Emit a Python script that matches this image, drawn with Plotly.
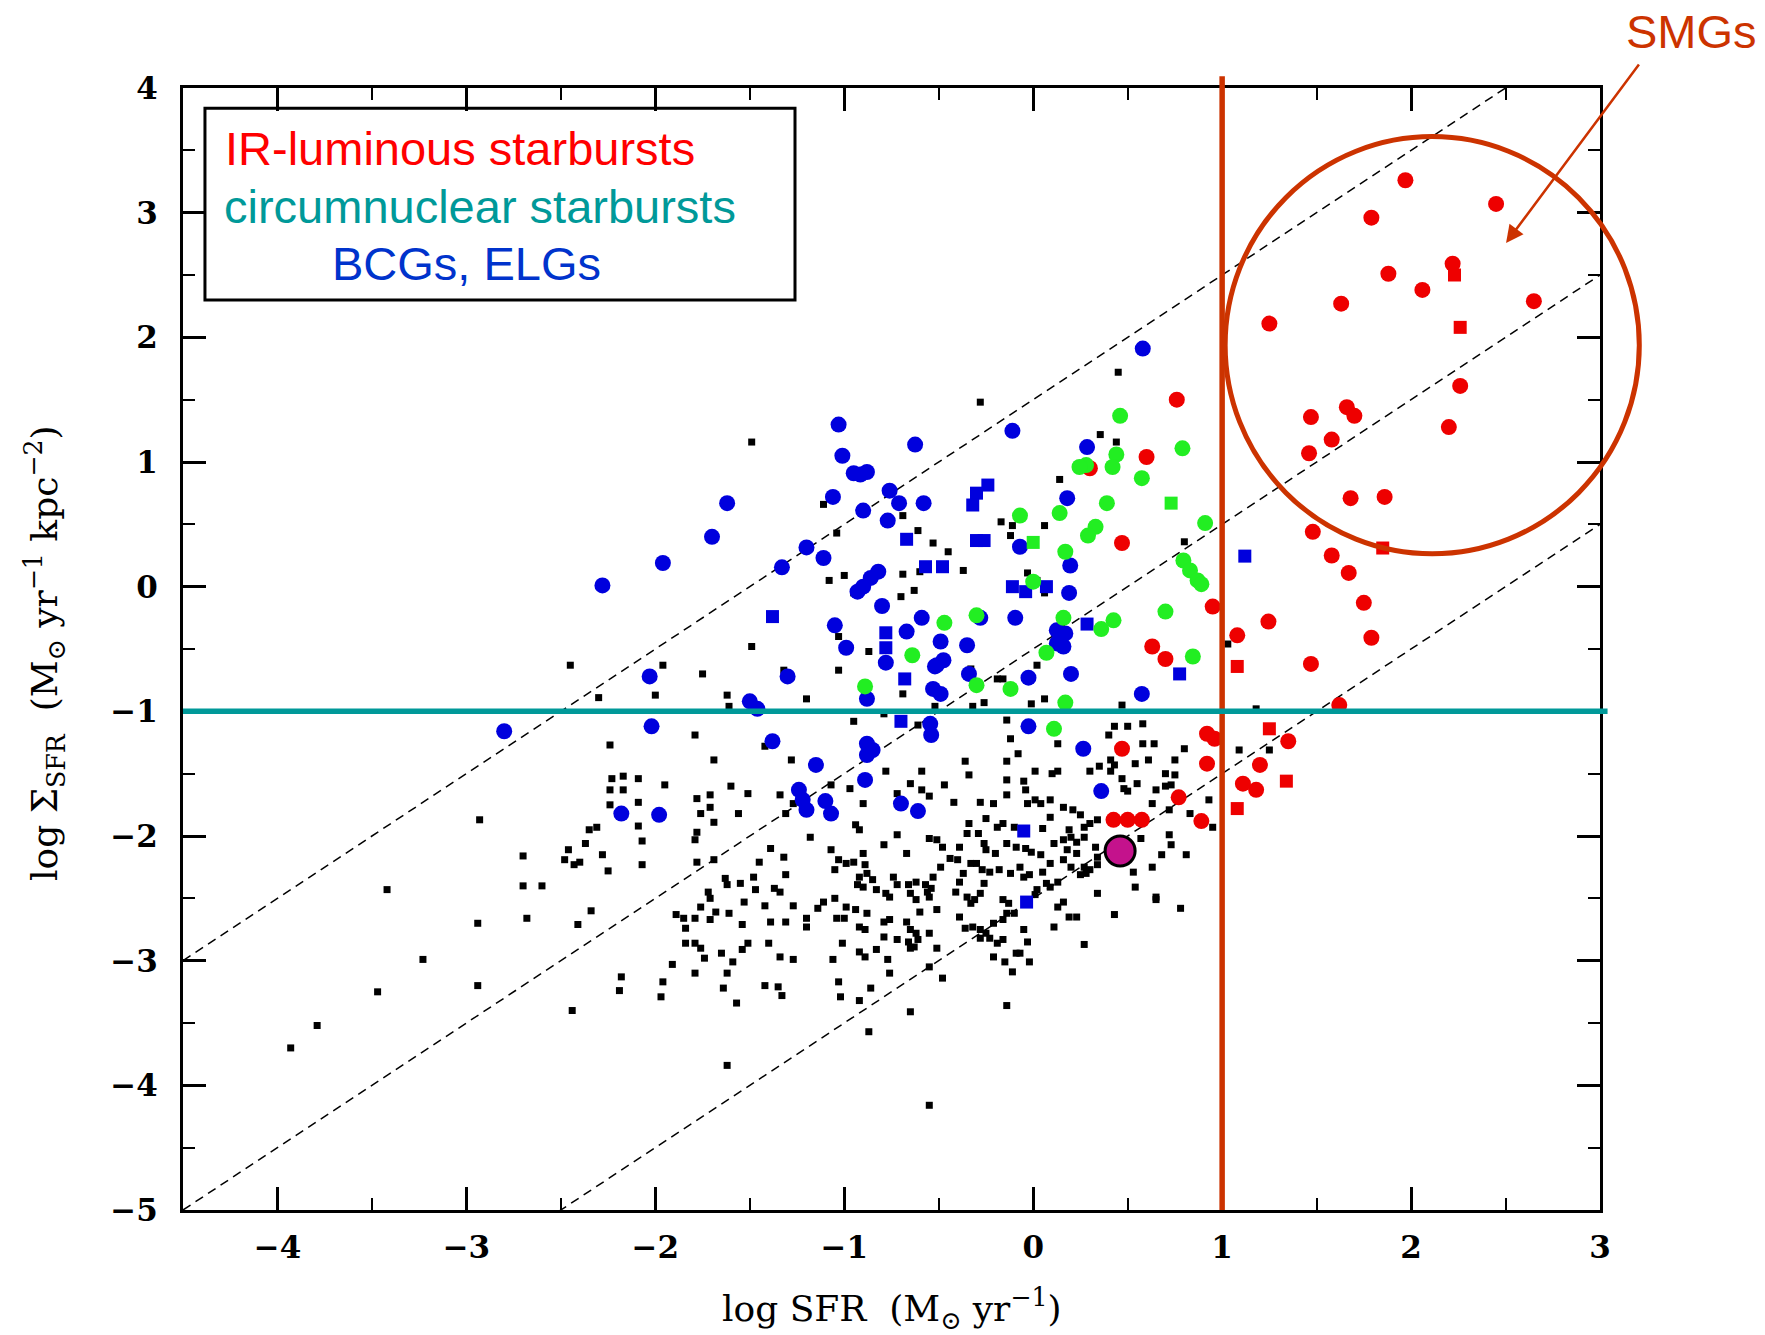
import plotly.graph_objects as go

# Axis extents (log SFR, log Sigma_SFR)
X_RANGE = [-4.5, 3.0]
Y_RANGE = [-5.0, 4.0]
X_TICKS = [-4, -3, -2, -1, 0, 1, 2, 3]
Y_TICKS = [-5, -4, -3, -2, -1, 0, 1, 2, 3, 4]

# Constant-ratio guide lines: log Sigma = log SFR + offset
GUIDE_OFFSETS = [1.5, -0.5, -2.5]

# (log SFR, log Sigma_SFR) per sample
ir_starbursts = [
    (1.97, 3.26), (2.45, 3.07), (1.79, 2.96), (1.88, 2.51), (2.22, 2.59), (2.06, 2.38),
    (1.63, 2.27), (2.65, 2.29), (1.25, 2.11), (2.26, 1.61), (2.20, 1.28), (1.47, 1.36),
    (1.66, 1.44), (1.70, 1.37), (1.58, 1.18), (1.46, 1.07), (1.68, 0.71), (1.86, 0.72),
    (1.48, 0.44), (1.58, 0.25), (1.67, 0.11), (1.75, -0.13), (1.79, -0.41), (1.47, -0.62),
    (1.62, -0.95), (0.76, 1.50), (0.60, 1.04), (0.30, 0.95), (0.47, 0.35), (0.95, -0.16),
    (0.63, -0.48), (0.70, -0.58), (1.245, -0.28), (1.08, -0.39), (0.47, -1.30), (0.92, -1.18),
    (0.96, -1.22), (0.92, -1.42), (1.35, -1.24), (1.20, -1.43), (1.11, -1.58), (1.18, -1.63),
    (0.77, -1.69), (0.425, -1.87), (0.50, -1.87), (0.575, -1.87), (0.89, -1.88),
]
ir_starbursts_sq = [
    (2.23, 2.50), (2.26, 2.08), (1.85, 0.31), (1.08, -0.64), (1.25, -1.14), (1.34, -1.56),
    (1.08, -1.78),
]

circumnuclear = [
    (0.46, 1.37), (0.79, 1.11), (0.28, 0.975), (0.245, 0.96), (0.44, 1.06), (0.42, 0.96),
    (0.575, 0.87), (0.39, 0.67), (0.14, 0.59), (-0.07, 0.57), (0.33, 0.48), (0.29, 0.41),
    (0.91, 0.51), (0.17, 0.28), (0.795, 0.21), (0.83, 0.13), (0.87, 0.05), (0.89, 0.02),
    (0.0, 0.04), (0.70, -0.20), (-0.30, -0.23), (-0.47, -0.29), (0.16, -0.25), (0.425, -0.27),
    (0.36, -0.34), (-0.64, -0.55), (0.07, -0.53), (0.845, -0.56), (-0.30, -0.79),
    (-0.12, -0.82), (0.17, -0.93), (0.11, -1.14), (-0.89, -0.80),
]
circumnuclear_sq = [(0.73, 0.67), (0.0, 0.355)]

bcg_elg = [
    (-1.03, 1.30), (-0.625, 1.14), (-1.01, 1.05), (-0.95, 0.91), (-0.88, 0.92), (-0.915, 0.90),
    (-1.06, 0.72), (-0.76, 0.77), (-0.71, 0.67), (-0.58, 0.67), (-0.90, 0.61), (-0.77, 0.53),
    (-1.62, 0.67), (-1.70, 0.40), (-1.96, 0.19), (-2.28, 0.01), (-1.20, 0.315), (-1.11, 0.23),
    (-1.33, 0.155), (-0.82, 0.12), (-0.86, 0.07), (-0.90, 0.0), (-0.93, -0.04), (-0.80, -0.155),
    (-0.59, -0.25), (-1.05, -0.31), (-0.67, -0.36), (-0.49, -0.44), (-0.99, -0.49),
    (-0.78, -0.61), (-0.51, -0.63), (-0.53, -0.82), (-0.49, -0.86), (-1.30, -0.72),
    (-2.03, -0.72), (-1.50, -0.92), (-1.46, -0.98), (-0.88, -0.90), (-0.545, -1.10),
    (-0.54, -1.19), (-2.80, -1.16), (-2.02, -1.12), (-1.38, -1.24), (-0.88, -1.26),
    (-0.85, -1.31), (-0.88, -1.35), (-1.15, -1.43), (-0.89, -1.55), (-1.24, -1.63),
    (-1.22, -1.71), (-1.20, -1.79), (-1.10, -1.72), (-1.07, -1.82), (-2.18, -1.82),
    (-1.98, -1.83), (-0.70, -1.74), (-0.61, -1.80), (-0.11, 1.25), (0.285, 1.12), (0.18, 0.71),
    (-0.07, 0.32), (0.196, 0.17), (0.19, -0.05), (-0.28, -0.25), (-0.095, -0.25),
    (0.125, -0.35), (0.17, -0.375), (0.16, -0.48), (0.125, -0.455), (-0.35, -0.47),
    (-0.475, -0.59), (-0.52, -0.64), (-0.34, -0.70), (-0.025, -0.73), (0.20, -0.70),
    (0.575, -0.86), (-0.025, -1.12), (0.265, -1.30), (0.36, -1.64), (0.58, 1.91),
]
bcg_elg_sq = [
    (-0.67, 0.38), (-1.38, -0.24), (-0.78, -0.37), (-0.78, -0.49), (-0.68, -0.74),
    (-0.70, -1.08), (-0.24, 0.815), (-0.30, 0.75), (-0.32, 0.655), (-0.30, 0.37),
    (-0.26, 0.37), (-0.57, 0.16), (-0.48, 0.16), (-0.11, 0.0), (-0.04, -0.04), (0.07, 0.0),
    (0.285, -0.30), (0.775, -0.70), (1.12, 0.245), (-0.05, -1.96), (-0.035, -2.53),
]

normal_disks = [
    # sparse low-SFR tail
    (-2.93, -1.87), (-3.42, -2.43), (-2.94, -2.70), (-2.70, -2.16), (-2.70, -2.40),
    (-2.60, -2.40), (-2.68, -2.66), (-3.23, -2.99), (-3.47, -3.25), (-2.94, -3.20),
    (-3.79, -3.52), (-3.93, -3.70), (-2.44, -3.40), (-2.41, -2.71), (-2.34, -2.60),
    (-2.31, -1.93), (-2.35, -1.95), (-2.37, -2.06), (-2.46, -2.11), (-2.48, -2.19),
    (-2.40, -2.21), (-2.43, -2.23), (-2.28, -2.15), (-2.25, -2.28), (-2.24, -1.63),
    (-2.17, -1.63), (-2.09, -1.73), (-2.24, -1.75), (-2.09, -1.92), (-2.07, -2.04),
    (-2.07, -2.23), (-1.95, -1.59), (-1.78, -1.70), (-1.71, -1.67), (-1.71, -1.77),
    (-1.76, -1.82), (-1.69, -1.89), (-1.78, -1.97), (-1.79, -2.03), (-1.60, -1.60),
    (-1.51, -1.66), (-1.56, -1.82), (-1.34, -1.67), (-1.27, -1.74), (-1.31, -1.82),
    (-1.18, -2.01), (-1.07, -1.59), (-0.97, -1.62), (-1.78, -2.21), (-1.69, -2.19),
    (-1.39, -2.10), (-1.32, -2.17), (-1.45, -2.21), (-1.31, -2.31), (-1.48, -2.33),
    (-1.63, -2.34), (-1.62, -2.39), (-1.55, -2.38), (-1.47, -2.43), (-1.37, -2.42),
    (-1.34, -2.45), (-1.72, -2.45), (-1.71, -2.50), (-1.53, -2.53), (-1.42, -2.56),
    (-1.76, -2.57), (-1.68, -2.61), (-1.61, -2.62), (-1.89, -2.63), (-1.85, -2.66),
    (-1.84, -2.74), (-1.79, -2.66), (-1.71, -2.67), (-1.54, -2.71), (-1.39, -2.69),
    (-1.31, -2.69), (-1.27, -2.56), (-1.20, -2.66), (-1.20, -2.73), (-1.14, -2.58),
    (-1.11, -2.53), (-1.05, -2.50), (-0.99, -2.57), (-1.04, -2.66), (-1.00, -2.66),
    (-1.07, -2.11), (-1.03, -2.19), (-0.99, -2.22), (-1.05, -2.27), (-1.84, -2.86),
    (-1.79, -2.86), (-1.76, -2.90), (-1.74, -2.98), (-1.65, -2.94), (-1.59, -3.01),
    (-1.54, -2.91), (-1.51, -2.86), (-1.62, -3.10), (-1.79, -3.10), (-1.91, -3.03),
    (-1.40, -2.86), (-1.34, -2.97), (-1.27, -2.99), (-1.06, -2.99), (-1.01, -2.86),
    (-2.18, -3.13), (-2.19, -3.24), (-1.96, -3.17), (-1.97, -3.29), (-1.64, -3.22),
    (-1.42, -3.20), (-1.35, -3.21), (-1.33, -3.28), (-1.57, -3.34), (-1.03, -3.17),
    (-1.02, -3.29), (-1.62, -3.84), (-0.55, -4.16),
    # upper left
    (-1.49, 1.16), (-1.11, 0.66), (-1.04, 0.43), (-1.08, 0.05), (-1.00, 0.09), (-0.95, -0.05),
    (-1.49, -0.48), (-1.03, -0.40), (-0.87, -0.52), (-1.03, -0.67), (-1.32, -0.67),
    (-1.75, -0.70), (-1.96, -0.63), (-2.45, -0.63), (-2.30, -0.89), (-2.00, -0.87),
    (-1.62, -0.87), (-1.61, -0.96), (-1.20, -0.90), (-1.79, -1.19), (-2.24, -1.27),
    (-1.42, -1.28), (-1.69, -1.39), (-1.28, -1.39), (-2.23, -1.54), (-2.17, -1.52),
    (-2.09, -1.54), (-0.52, -0.96),
    # central
    (-0.28, 1.48), (0.355, 1.22), (0.44, 1.16), (0.45, 1.72), (-0.69, 0.57), (-0.61, 0.45),
    (-0.53, 0.35), (-0.45, 0.28), (-0.17, 0.52), (-0.11, 0.49), (-0.12, 0.41), (0.06, 0.49),
    (0.14, 0.86), (-0.37, 0.13), (-0.69, 0.10), (-0.60, 0.12), (-0.63, -0.03), (-0.70, -0.08),
    (-0.03, 0.11), (0.02, 0.05), (0.06, -0.05), (0.80, 0.36), (0.15, -0.31), (0.02, -0.63),
    (-0.19, -0.74), (-0.16, -0.74), (-0.33, -0.66), (-0.69, -0.86), (1.03, -0.46),
    (-0.26, -0.93), (0.06, -0.90),
    # main cluster
    (-0.95, -1.08), (-0.79, -1.02), (-0.61, -1.11), (-0.32, -0.96), (-0.14, -1.07),
    (-0.01, -0.94), (0.47, -0.95), (-0.78, -1.48), (-0.59, -1.48), (-0.65, -1.58),
    (-0.59, -1.63), (-0.47, -1.59), (-0.36, -1.40), (-0.34, -1.51), (-0.14, -1.40),
    (-0.12, -1.22), (-0.08, -1.34), (-0.14, -1.55), (-0.05, -1.56), (-0.04, -1.63),
    (0.01, -1.48), (0.13, -1.26), (0.13, -1.48), (0.10, -1.50), (0.01, -1.71), (0.04, -1.74),
    (0.09, -1.71), (-0.03, -1.74), (-0.14, -1.67), (-0.21, -1.74), (-0.28, -1.73),
    (-0.42, -1.73), (-0.55, -1.68), (-0.72, -1.66), (-0.90, -1.74), (-0.94, -1.91),
    (-0.92, -1.95), (-0.72, -1.99), (-0.79, -2.07), (-0.90, -2.14), (-0.95, -2.21),
    (-0.89, -2.23), (-0.67, -2.14), (-0.55, -2.02), (-0.51, -2.03), (-0.48, -2.09),
    (-0.39, -2.09), (-0.34, -1.90), (-0.35, -1.98), (-0.29, -1.98), (-0.25, -1.86),
    (-0.19, -1.93), (-0.26, -2.06), (-0.25, -2.11), (-0.20, -2.14), (-0.16, -1.90),
    (-0.10, -1.93), (-0.14, -2.06), (-0.09, -2.09), (-0.04, -2.10), (-0.01, -2.13),
    (0.05, -1.94), (0.09, -1.85), (0.16, -1.77), (0.21, -1.79), (0.25, -1.83), (0.11, -2.06),
    (0.16, -2.03), (0.20, -2.01), (0.23, -2.05), (0.27, -1.93), (0.30, -1.90), (0.34, -1.87),
    (0.19, -1.95), (0.27, -2.01), (0.18, -2.11), (0.23, -2.14), (0.04, -2.15), (0.09, -2.22),
    (0.16, -2.19), (0.20, -2.25), (0.27, -2.25), (0.30, -2.27), (0.34, -2.23), (0.25, -2.31),
    (0.28, -2.30), (0.34, -2.17), (0.33, -2.09), (0.41, -1.48), (0.43, -1.43), (0.41, -1.39),
    (0.35, -1.44), (0.30, -1.48), (0.43, -1.12), (0.50, -1.12), (0.58, -1.10), (0.40, -1.19),
    (0.58, -1.26), (0.64, -1.26), (0.61, -1.39), (0.54, -1.42), (0.47, -1.54), (0.48, -1.62),
    (0.50, -1.64), (0.55, -1.58), (0.65, -1.63), (0.70, -1.60), (0.73, -1.59), (0.70, -1.50),
    (0.75, -1.51), (0.75, -1.39), (0.80, -1.30), (0.63, -1.74), (0.72, -1.79), (0.83, -1.82),
    (0.93, -1.71), (0.95, -1.93), (0.72, -1.99), (0.73, -2.07), (0.57, -2.02), (0.68, -2.15),
    (0.81, -2.15), (0.53, -2.29), (0.63, -2.25), (0.54, -2.41), (0.65, -2.49), (0.65, -2.51),
    (0.78, -2.58), (0.43, -2.63), (0.34, -2.46), (0.27, -2.87), (0.19, -2.65), (0.23, -2.65),
    (0.11, -2.73), (0.16, -2.53), (0.13, -2.57), (0.07, -2.38), (0.09, -2.41), (0.13, -2.37),
    (0.02, -2.43), (0.01, -2.47), (0.05, -2.29), (-0.02, -2.31), (-0.07, -2.25),
    (-0.05, -2.33), (-0.12, -2.30), (-0.18, -2.27), (-0.23, -2.29), (-0.27, -2.27),
    (-0.26, -2.38), (-0.28, -2.46), (-0.31, -2.51), (-0.33, -2.54), (-0.37, -2.30),
    (-0.39, -2.37), (-0.30, -2.22), (-0.33, -2.22), (-0.44, -2.18), (-0.40, -2.19),
    (-0.49, -2.25), (-0.53, -2.33), (-0.57, -2.39), (-0.54, -2.42), (-0.62, -2.37),
    (-0.66, -2.39), (-0.56, -2.45), (-0.55, -2.49), (-0.65, -2.46), (-0.62, -2.51),
    (-0.60, -2.61), (-0.51, -2.59), (-0.74, -2.33), (-0.72, -2.39), (-0.85, -2.35),
    (-0.83, -2.43), (-0.78, -2.46), (-0.76, -2.49), (-0.88, -2.30), (-0.92, -2.33),
    (-0.93, -2.39), (-0.90, -2.41), (-0.88, -2.62), (-0.94, -2.59), (-0.92, -2.73),
    (-0.89, -2.75), (-0.79, -2.69), (-0.76, -2.67), (-0.67, -2.69), (-0.65, -2.75),
    (-0.62, -2.78), (-0.61, -2.83), (-0.63, -2.89), (-0.65, -2.90), (-0.66, -2.85),
    (-0.79, -2.81), (-0.72, -2.83), (-0.55, -2.78), (-0.51, -2.90), (-0.92, -2.93),
    (-0.89, -2.97), (-0.83, -2.91), (-0.77, -2.99), (-0.76, -3.10), (-0.86, -3.22),
    (-0.92, -3.32), (-0.87, -3.57), (-0.65, -3.41), (-0.55, -3.05), (-0.48, -3.14),
    (-0.39, -2.65), (-0.36, -2.74), (-0.32, -2.73), (-0.28, -2.75), (-0.25, -2.78),
    (-0.28, -2.82), (-0.23, -2.82), (-0.19, -2.86), (-0.16, -2.83), (-0.21, -2.70),
    (-0.16, -2.67), (-0.14, -2.62), (-0.10, -2.62), (-0.21, -2.97), (-0.15, -3.01),
    (-0.09, -2.94), (-0.07, -2.94), (-0.02, -3.01), (-0.05, -2.75), (-0.03, -2.85),
    (-0.11, -3.09), (-0.14, -3.36), (-0.35, -2.49), (-0.41, -2.45), (-0.16, -2.51),
    (-0.13, -2.54), (1.09, -1.31), (1.25, -1.31), (1.18, -0.98),
]

milky_way = [(0.46, -2.12)]


def xs(points):
    return [p[0] for p in points]


def ys(points):
    return [p[1] for p in points]


def px(x):
    """data x -> paper fraction"""
    return (x - X_RANGE[0]) / (X_RANGE[1] - X_RANGE[0])


def py(y):
    """data y -> paper fraction"""
    return (y - Y_RANGE[0]) / (Y_RANGE[1] - Y_RANGE[0])


RED = "#ee0000"
GREEN = "#22ee22"
BLUE = "#0000dd"
TEAL = "#009999"
RUST = "#cc3300"

fig = go.Figure()

# dashed guide lines
for off in GUIDE_OFFSETS:
    fig.add_trace(go.Scatter(
        x=X_RANGE, y=[X_RANGE[0] + off, X_RANGE[1] + off], mode="lines",
        line=dict(color="black", width=1.5, dash="9px,6px"), hoverinfo="skip",
    ))


def add_points(points, color, symbol, size):
    fig.add_trace(go.Scatter(
        x=xs(points), y=ys(points), mode="markers",
        marker=dict(color=color, symbol=symbol, size=size, line=dict(width=0)),
    ))


add_points(normal_disks, "black", "square", 7)
add_points(bcg_elg, BLUE, "circle", 16)
add_points(bcg_elg_sq, BLUE, "square", 13)
add_points(ir_starbursts, RED, "circle", 16)
add_points(ir_starbursts_sq, RED, "square", 13)
add_points(circumnuclear, GREEN, "circle", 16)
add_points(circumnuclear_sq, GREEN, "square", 13)

fig.add_trace(go.Scatter(
    x=xs(milky_way), y=ys(milky_way), mode="markers",
    marker=dict(color="#c4128c", size=30, line=dict(color="black", width=3)),
))

axis_common = dict(
    showline=True, linecolor="black", linewidth=3, mirror="ticks",
    ticks="inside", ticklen=23, tickwidth=2.5, tickcolor="black",
    showgrid=False, zeroline=False,
    tickfont=dict(family="DejaVu Serif", size=31, color="black", weight="bold"),
    minor=dict(dtick=0.5, ticks="inside", ticklen=12, tickwidth=2, tickcolor="black",
               showgrid=False),
)

fig.update_xaxes(range=X_RANGE, tickvals=X_TICKS, ticklabelstandoff=8, **axis_common)
fig.update_yaxes(range=Y_RANGE, tickvals=Y_TICKS, ticklabelstandoff=16, **axis_common)

shapes = [
    # legend frame
    dict(type="rect", xref="paper", yref="paper", x0=0.0155, x1=0.4319, y0=0.811, y1=0.982,
         line=dict(color="black", width=3), fillcolor="rgba(0,0,0,0)"),
    # SFR = 10 Msun/yr divider
    dict(type="line", xref="paper", yref="paper", x0=px(1.0), x1=px(1.0), y0=0.0, y1=py(4.095),
         line=dict(color=RUST, width=5.5)),
    # Sigma_SFR = 0.1 threshold
    dict(type="line", xref="paper", yref="paper", x0=0.0, x1=px(3.04), y0=py(-1.0), y1=py(-1.0),
         line=dict(color=TEAL, width=5.5)),
    # SMG region
    dict(type="circle", xref="paper", yref="paper",
         x0=px(2.112 - 1.096), x1=px(2.112 + 1.096),
         y0=py(1.937 - 1.673), y1=py(1.937 + 1.673),
         line=dict(color=RUST, width=5)),
]

legend_font = "Liberation Sans, Arial, sans-serif"
annotations = [
    dict(text="IR-luminous starbursts", xref="paper", yref="paper", x=0.028, y=0.9465,
         xanchor="left", yanchor="middle", showarrow=False,
         font=dict(family=legend_font, size=47, color="#ff0000")),
    dict(text="circumnuclear starbursts", xref="paper", yref="paper", x=0.0275, y=0.8942,
         xanchor="left", yanchor="middle", showarrow=False,
         font=dict(family=legend_font, size=47, color=TEAL)),
    dict(text="BCGs, ELGs", xref="paper", yref="paper", x=0.1035, y=0.844,
         xanchor="left", yanchor="middle", showarrow=False,
         font=dict(family=legend_font, size=47, color="#0033cc")),
    dict(text="SMGs", xref="paper", yref="paper", x=1.0649, y=1.05,
         xanchor="center", yanchor="middle", showarrow=False,
         font=dict(family=legend_font, size=47, color=RUST)),
    dict(text="", xref="paper", yref="paper", x=0.9337, y=0.8619, ax=134, ay=-180,
         showarrow=True, arrowhead=2, arrowsize=1.4, arrowwidth=2.5, arrowcolor=RUST,
         standoff=0),
    # axis titles
    dict(text="log SFR  (M<sub>⊙</sub> yr<sup>−1</sup>)", xref="paper", yref="paper",
         x=0.5, y=-0.088, xanchor="center", yanchor="middle", showarrow=False,
         font=dict(family="DejaVu Serif", size=36, color="black")),
    dict(text="log Σ<sub>SFR</sub>  (M<sub>⊙</sub> yr<sup>−1</sup> kpc<sup>−2</sup>)",
         xref="paper", yref="paper", x=-0.0974, y=0.4964, textangle=-90,
         xanchor="center", yanchor="middle", showarrow=False,
         font=dict(family="DejaVu Serif", size=36, color="black")),
]

fig.update_layout(
    width=1765, height=1335,
    margin=dict(l=183, r=165, t=88, b=125),
    paper_bgcolor="white", plot_bgcolor="white",
    showlegend=False,
    shapes=shapes,
    annotations=annotations,
)

fig.write_html("out.html")
